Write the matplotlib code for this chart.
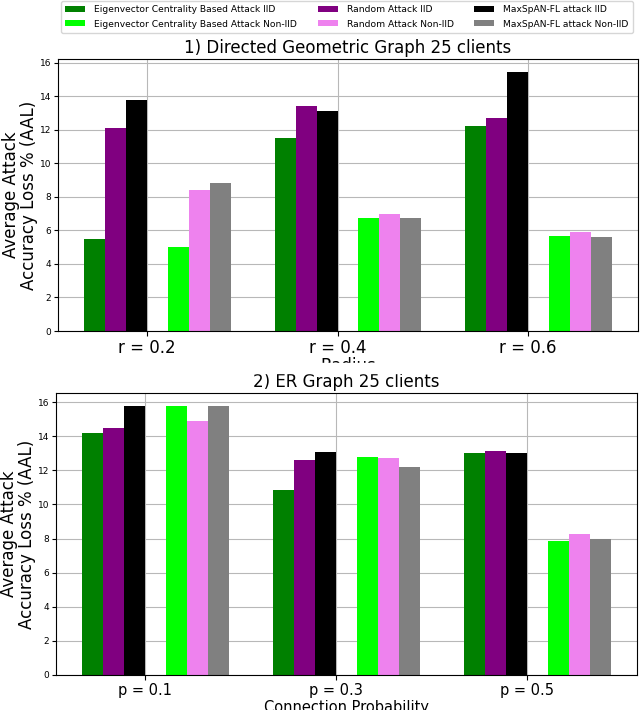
""" Attack accuracy loss bar charts for two graph types. """
import numpy as np
import matplotlib
matplotlib.use('Agg')
import matplotlib.pyplot as plt
from matplotlib.patches import Rectangle

labels = ['Eigenvector Centrality Based Attack IID',
          'Eigenvector Centrality Based Attack Non-IID',
          'Random Attack IID', 'Random Attack Non-IID',
          'MaxSpAN-FL attack IID', 'MaxSpAN-FL attack Non-IID']
colors = ['green', 'lime', 'purple', 'violet', 'black', 'gray']

geo_ticks = ['r = 0.2', 'r = 0.4', 'r = 0.6']
geo_eig_iid = [5.5, 11.5, 12.2]
geo_eig_non = [5.0, 6.75, 5.65]
geo_rand_iid = [12.1, 13.4, 12.7]
geo_rand_non = [8.4, 7.0, 5.9]
geo_max_iid = [13.8, 13.15, 15.45]
geo_max_non = [8.8, 6.75, 5.6]

er_ticks = ['p = 0.1', 'p = 0.3', 'p = 0.5']
er_eig_iid = [14.2, 10.85, 13.0]
er_eig_non = [15.75, 12.8, 7.85]
er_rand_iid = [14.5, 12.6, 13.15]
er_rand_non = [14.9, 12.75, 8.25]
er_max_iid = [15.75, 13.1, 13.0]
er_max_non = [15.75, 12.2, 8.0]

W = 0.11


def draw_panel(ax, ticks, series, title, xlabel, xsize, ylab_x, xpad):
    """ Draw one grouped bar panel. """
    x = np.arange(len(ticks))
    offsets = [-2.5, 1.5, -1.5, 2.5, -0.5, 3.5]
    for vals, off, c, lab in zip(series, offsets, colors, labels):
        ax.bar(x + off * W, vals, W, color=c, label=lab)
    ax.set_axisbelow(True)
    ax.grid(True, color='#b8b8b8', linewidth=0.8)
    ax.set_xticks(x)
    ax.set_xticklabels(ticks, fontsize=xsize)
    ax.tick_params(axis='x', pad=2)
    ax.tick_params(axis='y', labelsize=6.5, length=3, pad=2)
    ax.set_yticks(range(0, 17, 2))
    ax.set_title(title, fontsize=12, pad=4)
    ax.set_xlabel(xlabel, fontsize=xsize, labelpad=xpad)
    ax.set_ylabel('Average Attack\nAccuracy Loss % (AAL)', fontsize=12,
                  linespacing=1.05)
    ax.yaxis.set_label_coords(ylab_x, 0.5)


fig = plt.figure(figsize=(6.4, 7.1), dpi=100)
ax1 = fig.add_axes([58 / 640, 1 - 331 / 710, 580 / 640, 272 / 710])
ax2 = fig.add_axes([56 / 640, 1 - 675 / 710, 581 / 640, 282 / 710])

draw_panel(ax1, geo_ticks,
           [geo_eig_iid, geo_eig_non, geo_rand_iid, geo_rand_non,
            geo_max_iid, geo_max_non],
           '1) Directed Geometric Graph 25 clients', 'Radius', 12,
           -0.034, 0)
draw_panel(ax2, er_ticks,
           [er_eig_iid, er_eig_non, er_rand_iid, er_rand_non,
            er_max_iid, er_max_non],
           '2) ER Graph 25 clients', 'Connection Probability', 10.5,
           -0.034, 2)

# the two panels were cropped and stacked, hiding part of the first xlabel
fig.add_artist(Rectangle((0, 1 - 373 / 710), 1, 10 / 710,
                         transform=fig.transFigure, color='white',
                         zorder=5))

handles, labs = ax1.get_legend_handles_labels()
fig.legend(handles, labs,
           loc='upper left', bbox_to_anchor=(61 / 640, 1 - 1 / 710),
           ncol=3, fontsize=6.6, handlelength=2.2, handleheight=0.6,
           handletextpad=1.0, columnspacing=2.2, borderpad=0.45,
           labelspacing=0.6, borderaxespad=0, frameon=True)

fig.savefig('out.png', dpi=100)
